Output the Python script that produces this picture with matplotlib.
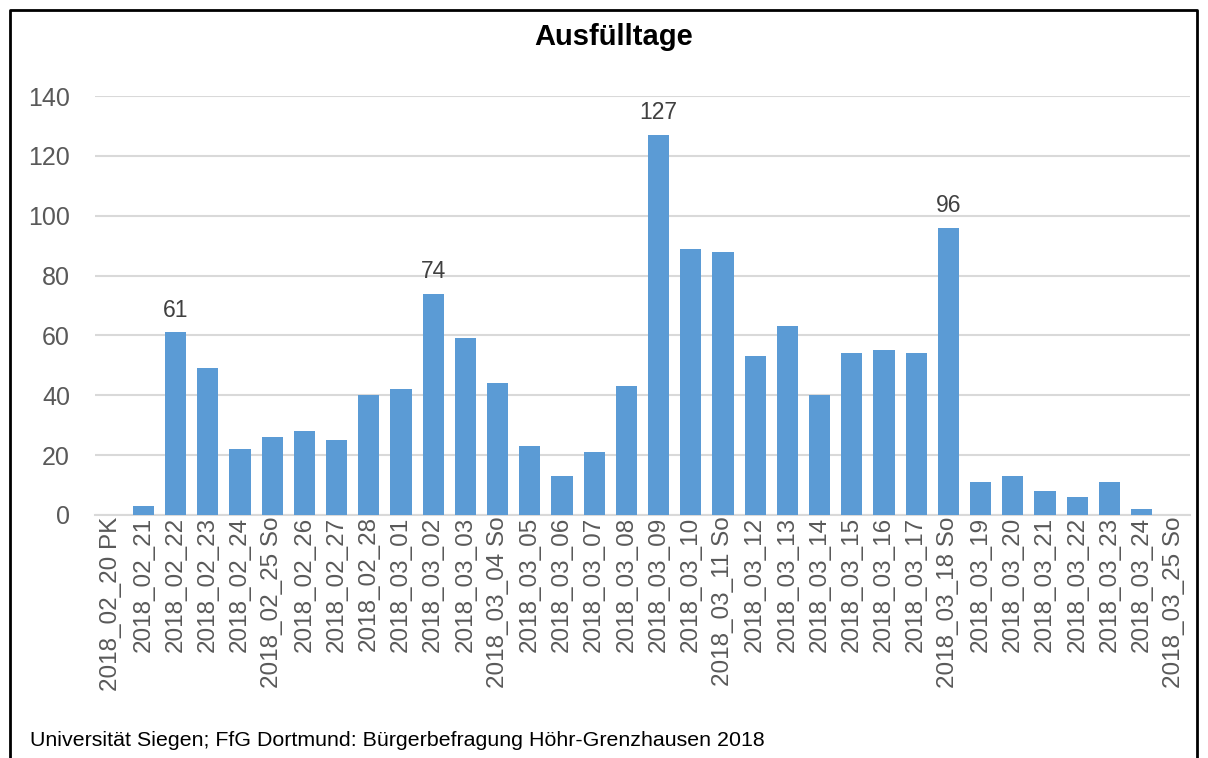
import matplotlib.pyplot as plt
from matplotlib.lines import Line2D

plt.rcParams['font.family'] = ['Liberation Sans', 'DejaVu Sans']

days = ["2018_02_20 PK", "2018_02_21", "2018_02_22", "2018_02_23", "2018_02_24",
        "2018_02_25 So", "2018_02_26", "2018_02_27", "2018_02_28", "2018_03_01",
        "2018_03_02", "2018_03_03", "2018_03_04 So", "2018_03_05", "2018_03_06",
        "2018_03_07", "2018_03_08", "2018_03_09", "2018_03_10", "2018_03_11 So",
        "2018_03_12", "2018_03_13", "2018_03_14", "2018_03_15", "2018_03_16",
        "2018_03_17", "2018_03_18 So", "2018_03_19", "2018_03_20", "2018_03_21",
        "2018_03_22", "2018_03_23", "2018_03_24", "2018_03_25 So"]
counts = [0, 3, 61, 49, 22, 26, 28, 25, 40, 42, 74, 59, 44, 23, 13, 21, 43, 127,
          89, 88, 53, 63, 40, 54, 55, 54, 96, 11, 13, 8, 6, 11, 2, 0]
labelled = ["2018_02_22", "2018_03_02", "2018_03_09", "2018_03_18 So"]

fig = plt.figure(figsize=(12.08, 7.58), dpi=100)
ax = fig.add_axes([95 / 1208, 1 - 515 / 758, 1095 / 1208, 419 / 758])

x = range(len(days))
bars = ax.bar(x, counts, width=0.66, color="#5b9bd5", zorder=3)
for i, d in enumerate(days):
    if d in labelled:
        ax.text(i, counts[i] + 3.5, str(counts[i]), ha="center", va="bottom",
                fontsize=16.5, color="#404040")

ax.set_xlim(-0.5, len(days) - 0.5)
ax.set_ylim(0, 140)
ax.set_yticks(range(0, 141, 20))
ax.set_xticks(list(x))
ax.set_xticklabels(days, rotation=90, fontsize=17.5, color="#595959")
ax.tick_params(axis="y", labelsize=18, colors="#595959", length=0, pad=18)
ax.tick_params(axis="x", length=0, pad=1)
ax.grid(axis="y", color="#d9d9d9", linewidth=1.5, zorder=0)
for s in ["top", "right", "left"]:
    ax.spines[s].set_visible(False)
ax.spines["bottom"].set_color("#d9d9d9")
ax.spines["bottom"].set_linewidth(1.5)

fig.text(614 / 1208, 1 - 37 / 758, "Ausfülltage", ha="center", va="center",
         fontsize=21, fontweight="bold", color="black")
fig.text(30 / 1208, 1 - 740 / 758, "Universität Siegen; FfG Dortmund: Bürgerbefragung Höhr-Grenzhausen 2018",
         ha="left", va="center", fontsize=15.4, color="black")

# chart border
bx0, bx1, by0 = 10 / 1208, 1197 / 1208, 1 - 10 / 758
fig.add_artist(Line2D([bx0, bx0, bx1, bx1], [0, by0, by0, 0],
                      color="black", linewidth=2, transform=fig.transFigure))

fig.savefig("out.png", dpi=100)
